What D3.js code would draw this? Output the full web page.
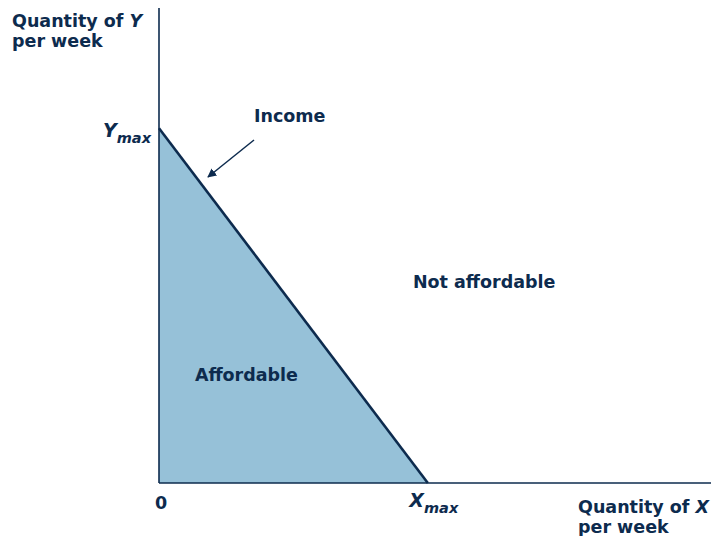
<!DOCTYPE html>
<html><head><meta charset="utf-8">
<script src="https://cdn.jsdelivr.net/npm/d3@7"></script>
<style>body{margin:0;background:#fff}text{font-family:"DejaVu Sans",sans-serif;font-weight:bold;fill:#0d2b4e}</style>
</head><body><svg id="c" width="715" height="536"></svg>
<script>
const budget = [{x:0,y:7.47},{x:4.87,y:0}];
const regionLabels = [{text:"Affordable",x:0.65,y:2.15},{text:"Not affordable",x:4.6,y:4.1}];
const xLabel = ["Quantity of ", "X", "per week"];
const yLabel = ["Quantity of ", "Y", "per week"];
const navy = "#0d2b4e", fillC = "#96c1d8";
const FS = 17.5;
const svg = d3.select("#c");
const x = d3.scaleLinear().domain([0,10]).range([159,711]);
const y = d3.scaleLinear().domain([0,10]).range([483,8]);
svg.append("path").datum([{x:0,y:0}, ...budget])
  .attr("d", d3.line().x(d=>x(d.x)).y(d=>y(d.y))).attr("fill", fillC);
svg.append("line").attr("x1",x(0)).attr("x2",x(0)).attr("y1",y(10)).attr("y2",y(0)).attr("stroke",navy).attr("stroke-width",1.6);
svg.append("line").attr("x1",x(0)).attr("x2",x(10)).attr("y1",y(0)).attr("y2",y(0)).attr("stroke",navy).attr("stroke-width",1.6);
svg.append("path").datum(budget).attr("d", d3.line().x(d=>x(d.x)).y(d=>y(d.y)))
  .attr("fill","none").attr("stroke",navy).attr("stroke-width",2.6);
const defs = svg.append("defs");
defs.append("marker").attr("id","ah").attr("viewBox","0 0 10 10").attr("refX",9).attr("refY",5)
  .attr("markerWidth",9).attr("markerHeight",9).attr("markerUnits","userSpaceOnUse").attr("orient","auto")
  .append("path").attr("d","M0,0L10,5L0,10Z").attr("fill",navy);
svg.append("line").attr("x1",254).attr("y1",140).attr("x2",208).attr("y2",177)
  .attr("stroke",navy).attr("stroke-width",1.5).attr("marker-end","url(#ah)");
svg.append("text").attr("x",254).attr("y",122).attr("font-size",FS).text("Income");
regionLabels.forEach(l=>svg.append("text").attr("x",x(l.x)).attr("y",y(l.y)).attr("font-size",FS).text(l.text));
const yl = svg.append("text").attr("x",12).attr("y",27).attr("font-size",FS);
yl.append("tspan").text(yLabel[0]); yl.append("tspan").attr("font-style","italic").text(yLabel[1]);
yl.append("tspan").attr("x",12).attr("dy",19.5).text(yLabel[2]);
const xl = svg.append("text").attr("x",578).attr("y",513).attr("font-size",FS);
xl.append("tspan").text(xLabel[0]); xl.append("tspan").attr("font-style","italic").text(xLabel[1]);
xl.append("tspan").attr("x",578).attr("dy",19.5).text(xLabel[2]);
svg.append("text").attr("x",x(0)+2).attr("y",509).attr("text-anchor","middle").attr("font-size",FS).text("0");
const xm = svg.append("text").attr("x",x(budget[1].x)+6).attr("y",507).attr("text-anchor","middle").attr("font-size",19).attr("font-style","italic");
xm.append("tspan").text("X"); xm.append("tspan").attr("font-size",14.5).attr("dy",6).text("max");
const ym = svg.append("text").attr("x",151).attr("y",y(budget[0].y)+9).attr("text-anchor","end").attr("font-size",19).attr("font-style","italic");
ym.append("tspan").text("Y"); ym.append("tspan").attr("font-size",14.5).attr("dy",6).text("max");
</script></body></html>
